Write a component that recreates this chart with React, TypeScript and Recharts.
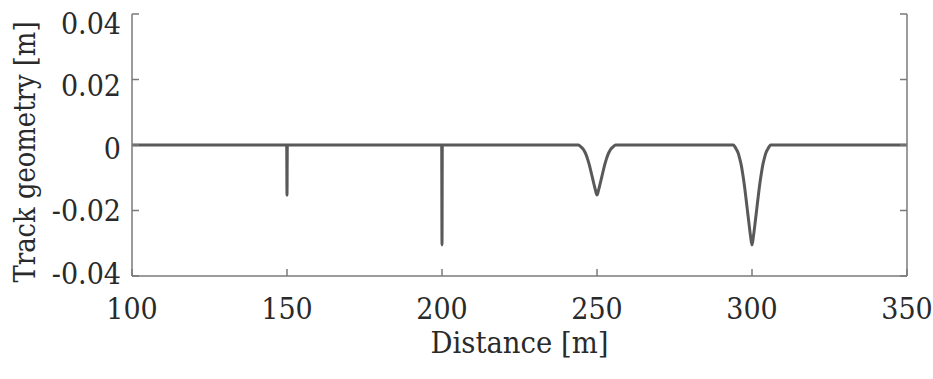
import { LineChart, Line, XAxis, YAxis, Label } from "recharts";

// distance [m] and vertical track geometry [m]
const distance = [
  100, 149.9, 150, 150.1, 199.9, 200, 200.1,
  244, 244.5, 245, 245.5, 246, 246.5, 247, 247.5, 248, 248.5, 249, 249.5, 250,
  250.5, 251, 251.5, 252, 252.5, 253, 253.5, 254, 254.5, 255, 255.5, 256,
  294, 294.5, 295, 295.5, 296, 296.5, 297, 297.5, 298, 298.5, 299, 299.5, 300,
  300.5, 301, 301.5, 302, 302.5, 303, 303.5, 304, 304.5, 305, 305.5, 306,
  350,
];

const geometry = [
  0, 0, -0.0153, 0, 0, -0.0305, 0,
  0, -0.0003, -0.0007, -0.0012, -0.002, -0.003, -0.0044, -0.006, -0.0079, -0.0099, -0.0119, -0.0138, -0.0153,
  -0.0138, -0.0119, -0.0099, -0.0079, -0.006, -0.0044, -0.003, -0.002, -0.0012, -0.0007, -0.0003, 0,
  0, -0.0006, -0.0014, -0.0024, -0.004, -0.006, -0.0088, -0.012, -0.0158, -0.0198, -0.0238, -0.0276, -0.0305,
  -0.0276, -0.0238, -0.0198, -0.0158, -0.012, -0.0088, -0.006, -0.004, -0.0024, -0.0014, -0.0006, 0,
  0,
];

const xTicks = [100, 150, 200, 250, 300, 350];
const yTicks = [-0.04, -0.02, 0, 0.02, 0.04];

const data = distance.map((d, i) => ({ d, g: geometry[i] }));

const AXIS = "#7a7a7a";
const TEXT = "#2a2a2a";
const textStyle = {
  fontFamily: "'DejaVu Serif Condensed', 'DejaVu Serif'",
  fontStretch: "condensed",
  fontSize: 30,
};

const XTick = ({ x, y, payload }: any) => (
  <text x={x} y={y} dy="0.71em" textAnchor="middle" fill={TEXT} style={textStyle}>
    {payload.value}
  </text>
);

// labels in the source sit a little closer together than the ticks
const YTick = ({ x, y, payload }: any) => (
  <text
    x={x}
    y={148 + (y - 145) * 0.955}
    dy="0.355em"
    textAnchor="end"
    fill={TEXT}
    style={textStyle}
  >
    {payload.value === 0 ? "0" : payload.value.toFixed(2)}
  </text>
);

export default function App() {
  return (
    <div style={{ position: "absolute", left: 0, top: 0, background: "#fff" }}>
      <LineChart width={933} height={379} data={data} margin={{ top: 14, right: 0, left: 0, bottom: 0 }}>
        <XAxis
          dataKey="d"
          type="number"
          domain={[100, 350]}
          ticks={xTicks}
          allowDataOverflow
          height={103}
          stroke={AXIS}
          strokeWidth={1.5}
          tickSize={-7}
          tickMargin={29}
          tick={XTick}
        >
          <Label
            content={({ viewBox }: any) => (
              <text
                x={viewBox.x + viewBox.width / 2}
                y={viewBox.y + viewBox.height - 26}
                textAnchor="middle"
                fill={TEXT}
                style={textStyle}
                textLength={178}
                lengthAdjust="spacingAndGlyphs"
              >
                Distance [m]
              </text>
            )}
          />
        </XAxis>
        <XAxis
          xAxisId="top"
          orientation="top"
          dataKey="d"
          type="number"
          domain={[100, 350]}
          ticks={xTicks}
          allowDataOverflow
          height={0}
          stroke={AXIS}
          strokeWidth={1.5}
          tickSize={-7}
          tickFormatter={() => ""}
        />
        <YAxis
          type="number"
          domain={[-0.04, 0.04]}
          ticks={yTicks}
          allowDataOverflow
          width={132}
          stroke={AXIS}
          strokeWidth={1.5}
          tickSize={-7}
          tickMargin={18}
          tick={YTick}
        >
          <Label
            content={({ viewBox }: any) => {
              const cy = viewBox.y + viewBox.height / 2 + 7;
              return (
                <text
                  x={35}
                  y={cy}
                  transform={`rotate(-90, 35, ${cy})`}
                  textAnchor="middle"
                  fill={TEXT}
                  style={textStyle}
                  textLength={261}
                  lengthAdjust="spacingAndGlyphs"
                >
                  Track geometry [m]
                </text>
              );
            }}
          />
        </YAxis>
        <YAxis
          yAxisId="right"
          orientation="right"
          type="number"
          domain={[-0.04, 0.04]}
          ticks={yTicks}
          allowDataOverflow
          width={26}
          stroke={AXIS}
          strokeWidth={1.5}
          tickSize={-7}
          tickFormatter={() => ""}
        />
        <Line
          dataKey="g"
          type="monotone"
          stroke="#595959"
          strokeWidth={3}
          dot={false}
          isAnimationActive={false}
        />
      </LineChart>
    </div>
  );
}
